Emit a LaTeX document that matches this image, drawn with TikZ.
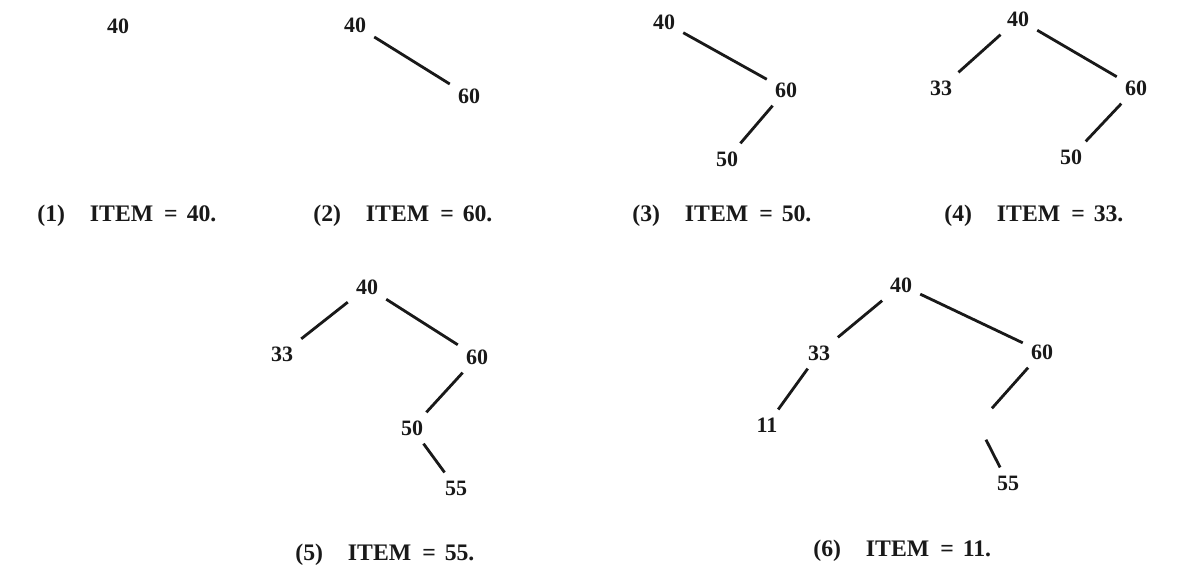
\documentclass[tikz,border=0pt]{standalone}
\usepackage{fontspec}
\setmainfont{Liberation Serif}
\begin{document}
\begin{tikzpicture}[x=0.02cm,y=-0.02cm,
  num/.style={font=\fontsize{12.5}{14}\selectfont\bfseries, text=black!90, inner sep=4.5pt},
  branch/.style={line width=1.6pt, black!90},
  captxt/.style={font=\fontsize{13.5}{16}\selectfont\bfseries, text=black!90, anchor=west, inner sep=0pt}]
\useasboundingbox (0,0) rectangle (1197,570);
\fill[white] (0,0) rectangle (1197,570);

% (1)
\node[num] (a40) at (118,26) {40};
\node[captxt] (c1) at (37,216) {(1)\hspace{0.5cm}ITEM\hspace{0.22cm}=\hspace{0.18cm}40.};

% (2)
\node[num] (b40) at (355,25) {40};
\node[num] (b60) at (469,96) {60};
\draw[branch] (b40) -- (b60);
\node[captxt] (c2) at (313,216) {(2)\hspace{0.5cm}ITEM\hspace{0.22cm}=\hspace{0.18cm}60.};

% (3)
\node[num] (d40) at (664,22) {40};
\node[num] (d60) at (786,90) {60};
\node[num] (d50) at (727,159) {50};
\draw[branch] (d40) -- (d60);
\draw[branch] (d60) -- (d50);
\node[captxt] (c3) at (632,216) {(3)\hspace{0.5cm}ITEM\hspace{0.22cm}=\hspace{0.18cm}50.};

% (4)
\node[num] (e40) at (1018,19) {40};
\node[num] (e33) at (941,88) {33};
\node[num] (e60) at (1136,88) {60};
\node[num] (e50) at (1071,157) {50};
\draw[branch] (e40) -- (e33);
\draw[branch] (e40) -- (e60);
\draw[branch] (e60) -- (e50);
\node[captxt] (c4) at (944,216) {(4)\hspace{0.5cm}ITEM\hspace{0.22cm}=\hspace{0.18cm}33.};

% (5)
\node[num] (f40) at (367,287) {40};
\node[num] (f33) at (282,354) {33};
\node[num] (f60) at (477,357) {60};
\node[num] (f50) at (412,428) {50};
\node[num] (f55) at (456,488) {55};
\draw[branch] (f40) -- (f33);
\draw[branch] (f40) -- (f60);
\draw[branch] (f60) -- (f50);
\draw[branch] (f50) -- (f55);
\node[captxt] (c5) at (295,555) {(5)\hspace{0.5cm}ITEM\hspace{0.22cm}=\hspace{0.18cm}55.};

% (6)
\node[num] (g40) at (901,285) {40};
\node[num] (g33) at (819,353) {33};
\node[num] (g60) at (1042,352) {60};
\node[num] (g11) at (767,425) {11};
\node[num] (g50) at (978,424) {\phantom{50}};
\node[num] (g55) at (1008,483) {55};
\draw[branch] (g40) -- (g33);
\draw[branch] (g40) -- (g60);
\draw[branch] (g33) -- (g11);
\draw[branch] (g60) -- (g50);
\draw[branch] (g50) -- (g55);
\node[captxt] (c6) at (813,551) {(6)\hspace{0.5cm}ITEM\hspace{0.22cm}=\hspace{0.18cm}11.};
\end{tikzpicture}
\end{document}
